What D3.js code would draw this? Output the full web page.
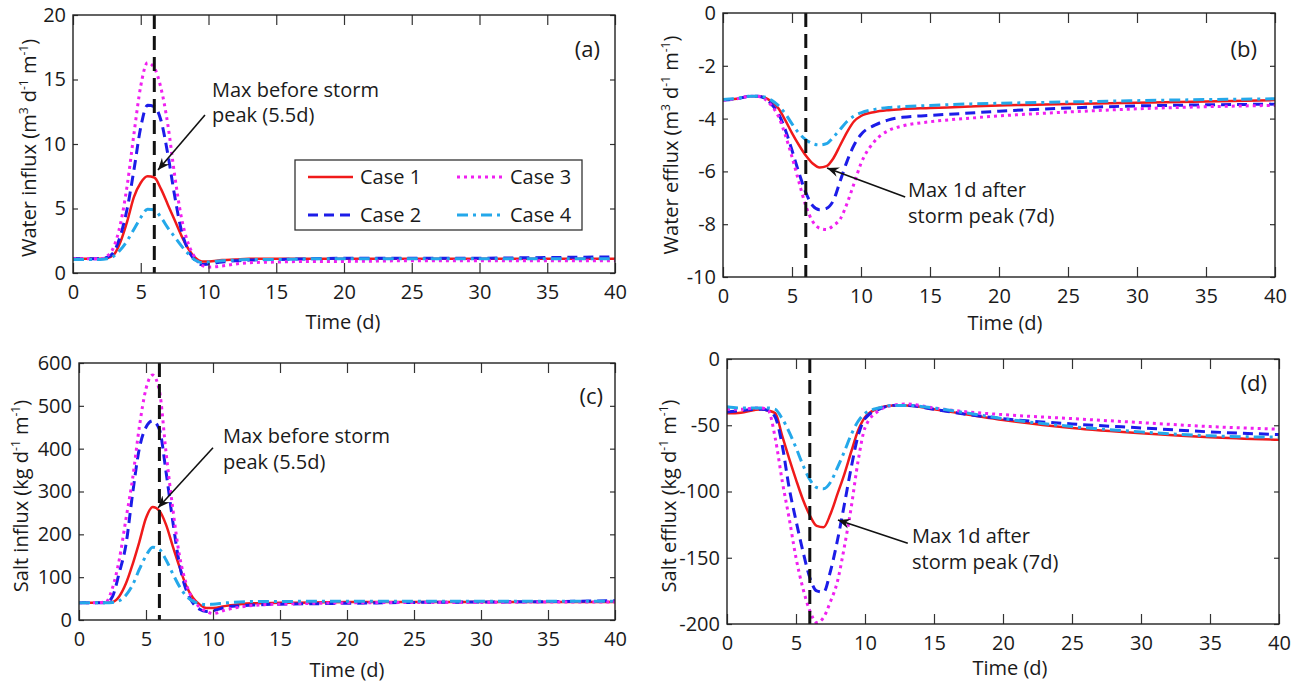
<!DOCTYPE html>
<html>
<head>
<meta charset="utf-8">
<script src="https://cdn.jsdelivr.net/npm/d3@7"></script>
<style>
  body { margin: 0; background: #fff; }
  svg { display: block; font-family: "Open Sans", "DejaVu Sans", sans-serif; }
</style>
</head>
<body>
<svg id="fig" width="1301" height="684"></svg>
<script>
// ---- data -----------------------------------------------------------------
const days = [0, 1, 2, 2.5, 3, 3.5, 4, 4.5, 5, 5.5, 6, 6.5, 7, 7.5, 8, 8.5, 9, 9.5, 10, 11, 12, 13, 15, 17.5, 20, 25, 30, 35, 40];
const caseNames = ["Case 1", "Case 2", "Case 3", "Case 4"];

// (a) water influx, m3 d-1 m-1 (Case 1..4)
const waterInflux = [
  [1.1, 1.1, 1.1, 1.15, 1.4, 2.4, 4.0, 5.9, 7.0, 7.5, 7.4, 6.5, 5.3, 4.1, 2.9, 1.9, 1.2, 0.9, 0.9, 1.0, 1.05, 1.1, 1.1, 1.1, 1.1, 1.1, 1.1, 1.1, 1.1],
  [1.1, 1.1, 1.1, 1.2, 1.6, 2.9, 5.0, 8.0, 11.3, 13.0, 12.9, 11.8, 9.2, 6.0, 3.3, 1.8, 1.0, 0.65, 0.7, 0.85, 0.95, 1.0, 1.05, 1.1, 1.15, 1.15, 1.15, 1.2, 1.25],
  [1.1, 1.1, 1.1, 1.3, 2.0, 3.8, 6.8, 10.8, 14.5, 16.3, 15.9, 14.3, 11.5, 7.6, 4.3, 2.3, 1.2, 0.6, 0.45, 0.55, 0.7, 0.8, 0.85, 0.9, 0.9, 0.95, 0.95, 0.95, 0.95],
  [1.05, 1.05, 1.05, 1.1, 1.3, 1.8, 2.5, 3.4, 4.3, 4.95, 4.9, 4.3, 3.5, 2.8, 2.1, 1.5, 1.0, 0.8, 0.85, 0.95, 1.0, 1.05, 1.05, 1.1, 1.1, 1.1, 1.1, 1.1, 1.1]
];

// (b) water efflux, m3 d-1 m-1
const waterEfflux = [
  [-3.3, -3.25, -3.15, -3.15, -3.2, -3.35, -3.6, -4.05, -4.55, -5.0, -5.4, -5.7, -5.85, -5.8, -5.5, -5.0, -4.5, -4.1, -3.9, -3.75, -3.68, -3.64, -3.6, -3.55, -3.5, -3.45, -3.4, -3.35, -3.3],
  [-3.3, -3.25, -3.15, -3.15, -3.22, -3.45, -3.8, -4.4, -5.2, -6.05, -6.8, -7.3, -7.45, -7.4, -7.1, -6.35, -5.6, -5.0, -4.6, -4.25, -4.05, -3.95, -3.88, -3.8, -3.72, -3.6, -3.52, -3.48, -3.45],
  [-3.3, -3.25, -3.15, -3.15, -3.25, -3.5, -3.9, -4.6, -5.45, -6.4, -7.3, -7.9, -8.15, -8.2, -8.05, -7.8, -7.2, -6.45, -5.7, -4.85, -4.45, -4.28, -4.12, -4.0, -3.9, -3.75, -3.63, -3.55, -3.5],
  [-3.28, -3.24, -3.15, -3.15, -3.18, -3.3, -3.5, -3.8, -4.2, -4.55, -4.8, -4.95, -5.0, -4.95, -4.7, -4.4, -4.1, -3.9, -3.78, -3.65, -3.58, -3.55, -3.5, -3.45, -3.42, -3.37, -3.32, -3.28, -3.25]
];

// (c) salt influx, kg d-1 m-1
const saltInflux = [
  [40, 40, 40, 42, 55, 85, 130, 182, 238, 264, 255, 222, 172, 124, 80, 52, 36, 28, 28, 33, 37, 39, 40, 41, 42, 42, 42, 42, 42],
  [40, 40, 40, 55, 110, 175, 295, 400, 450, 465, 445, 345, 230, 130, 70, 40, 25, 20, 22, 30, 33, 35, 37, 38, 39, 41, 42, 43, 45],
  [40, 40, 42, 75, 140, 235, 330, 450, 540, 572, 535, 390, 260, 150, 85, 48, 30, 20, 15, 24, 30, 34, 37, 39, 40, 41, 41, 42, 42],
  [40, 40, 40, 41, 45, 58, 82, 118, 150, 170, 165, 140, 108, 78, 56, 44, 38, 36, 37, 40, 42, 43, 43, 44, 44, 44, 44, 44, 44]
];

// (d) salt efflux, kg d-1 m-1
const saltEfflux = [
  [-41, -40.5, -38.5, -38, -39, -41, -58, -75, -91, -106, -118, -126, -127, -117, -102, -87, -70, -54, -44, -37, -35, -35, -38, -42, -46, -52, -56, -59, -61],
  [-40, -39, -38, -38, -39, -44, -65, -97, -122, -145, -165, -175, -176, -160, -137, -110, -82, -58, -45, -38, -35, -35, -38, -42, -45, -49, -52, -55, -57],
  [-38, -38, -37, -37, -39, -60, -92, -120, -150, -173, -190, -199, -195, -183, -168, -142, -112, -77, -52, -39, -35, -34, -37, -40, -42, -45, -48, -51, -53],
  [-36, -37, -37, -37, -37, -38, -45, -55, -67, -80, -91, -97, -98, -93, -82, -70, -57, -47, -41, -37, -35, -35, -37, -41, -45, -51, -55, -58, -59]
];

const timeTicks = [0, 5, 10, 15, 20, 25, 30, 35, 40];
const waterInTicks = [0, 5, 10, 15, 20];
const waterOutTicks = [-10, -8, -6, -4, -2, 0];
const saltInTicks = [0, 100, 200, 300, 400, 500, 600];
const saltOutTicks = [-200, -150, -100, -50, 0];
const stormPeakDay = 6;

// ---- styles & layout ------------------------------------------------------
const caseStyles = [
  { color: "#f01a1a", dash: null,        width: 2.5 },
  { color: "#1c1ce8", dash: "10,6",      width: 3 },
  { color: "#f020f0", dash: "3,4",       width: 3 },
  { color: "#24a8ea", dash: "11,5,3,5",  width: 3 }
];

const panels = [
  { series: waterInflux, yDomain: [0, 20], yTicks: waterInTicks,
    left: 73, right: 615, top: 15, bottom: 273,
    yLabel: ["Water influx (m", "3", " d", "-1", " m", "-1", ")"], yLabelX: 36, yLabelY: 148,
    xLabelX: 343, xLabelY: 329, tag: "(a)", tagX: 600, tagY: 57,
    note: ["Max before storm", "peak (5.5d)"], noteX: 212, noteY: [97, 122],
    arrow: { from: [9.74, 12.25], to: [6.27, 7.98] } },
  { series: waterEfflux, yDomain: [-10, 0], yTicks: waterOutTicks,
    left: 723, right: 1275, top: 13, bottom: 277,
    yLabel: ["Water efflux (m", "3", " d", "-1", " m", "-1", ")"], yLabelX: 678, yLabelY: 145,
    xLabelX: 1005, xLabelY: 330, tag: "(b)", tagX: 1257, tagY: 57,
    note: ["Max 1d after", "storm peak (7d)"], noteX: 908, noteY: [197, 223],
    arrow: { from: [13.2, -6.97], to: [7.54, -5.87] } },
  { series: saltInflux, yDomain: [0, 600], yTicks: saltInTicks,
    left: 79, right: 615, top: 363, bottom: 620,
    yLabel: ["Salt influx (kg d", "-1", " m", "-1", ")"], yLabelX: 28, yLabelY: 496,
    xLabelX: 347, xLabelY: 677, tag: "(c)", tagX: 603, tagY: 404,
    note: ["Max before storm", "peak (5.5d)"], noteX: 223, noteY: [443, 469],
    arrow: { from: [10.0, 402], to: [5.9, 262] } },
  { series: saltEfflux, yDomain: [-200, 0], yTicks: saltOutTicks,
    left: 727, right: 1279, top: 359, bottom: 624,
    yLabel: ["Salt efflux (kg d", "-1", " m", "-1", ")"], yLabelX: 676, yLabelY: 496,
    xLabelX: 1010, xLabelY: 675, tag: "(d)", tagX: 1267, tagY: 391,
    note: ["Max 1d after", "storm peak (7d)"], noteX: 912, noteY: [543, 569],
    arrow: { from: [13.1, -139], to: [8.04, -121.5] } }
];

const svg = d3.select("#fig");
const defs = svg.append("defs");

// MATLAB-like notched arrowhead
defs.append("marker")
  .attr("id", "arrowhead")
  .attr("viewBox", "-12 -6 14 12")
  .attr("refX", 0).attr("refY", 0)
  .attr("markerWidth", 14).attr("markerHeight", 12)
  .attr("markerUnits", "userSpaceOnUse")
  .attr("orient", "auto")
  .append("path")
  .attr("d", "M0,0 L-12,-5 L-8,0 L-12,5 Z")
  .attr("fill", "#111");

function drawPanel(p, i) {
  const g = svg.append("g");
  const x = d3.scaleLinear().domain([0, 40]).range([p.left, p.right]);
  const y = d3.scaleLinear().domain(p.yDomain).range([p.bottom, p.top]);

  const clipId = "clip" + i;
  defs.append("clipPath").attr("id", clipId)
    .append("rect")
    .attr("x", p.left).attr("y", p.top)
    .attr("width", p.right - p.left).attr("height", p.bottom - p.top);

  // curves, one per case
  const line = d3.line()
    .x((d, k) => x(days[k]))
    .y(d => y(d))
    .curve(d3.curveMonotoneX);

  const curves = g.append("g").attr("clip-path", `url(#${clipId})`);
  p.series.forEach((vals, k) => {
    const s = caseStyles[k];
    curves.append("path")
      .datum(vals)
      .attr("d", line)
      .attr("fill", "none")
      .attr("stroke", s.color)
      .attr("stroke-width", s.width)
      .attr("stroke-dasharray", s.dash)
      .attr("stroke-linejoin", "round");
  });

  // storm peak marker
  g.append("line")
    .attr("x1", x(stormPeakDay)).attr("x2", x(stormPeakDay))
    .attr("y1", p.top).attr("y2", p.bottom)
    .attr("stroke", "#111").attr("stroke-width", 3)
    .attr("stroke-dasharray", "14,7");

  // axes with inward ticks on all four sides
  const fmt = d => String(d);
  const styleAxis = sel => {
    sel.select(".domain").remove();
    sel.selectAll(".tick line").attr("stroke", "#333").attr("stroke-width", 1.2);
    sel.selectAll(".tick text").attr("font-size", 20).attr("fill", "#1a1a1a")
      .attr("font-family", "'Open Sans', sans-serif");
  };
  g.append("g").attr("transform", `translate(0,${p.bottom})`)
    .call(d3.axisBottom(x).tickValues(timeTicks).tickSizeInner(-10).tickSizeOuter(0).tickPadding(12).tickFormat(fmt))
    .call(styleAxis);
  g.append("g").attr("transform", `translate(0,${p.top})`)
    .call(d3.axisTop(x).tickValues(timeTicks).tickSizeInner(-10).tickSizeOuter(0).tickFormat(""))
    .call(styleAxis);
  g.append("g").attr("transform", `translate(${p.left},0)`)
    .call(d3.axisLeft(y).tickValues(p.yTicks).tickSizeInner(-5).tickSizeOuter(0).tickPadding(7).tickFormat(fmt))
    .call(styleAxis);
  g.append("g").attr("transform", `translate(${p.right},0)`)
    .call(d3.axisRight(y).tickValues(p.yTicks).tickSizeInner(-5).tickSizeOuter(0).tickFormat(""))
    .call(styleAxis);

  g.append("rect")
    .attr("x", p.left).attr("y", p.top)
    .attr("width", p.right - p.left).attr("height", p.bottom - p.top)
    .attr("fill", "none").attr("stroke", "#222").attr("stroke-width", 1.4);

  // axis titles
  g.append("text")
    .attr("x", p.xLabelX).attr("y", p.xLabelY)
    .attr("text-anchor", "middle").attr("font-size", 20).attr("fill", "#1a1a1a")
    .text("Time (d)");

  const yl = g.append("text")
    .attr("transform", `translate(${p.yLabelX},${p.yLabelY}) rotate(-90)`)
    .attr("text-anchor", "middle").attr("font-size", 20).attr("fill", "#1a1a1a");
  p.yLabel.forEach((part, k) => {
    const sup = k % 2 === 1;
    yl.append("tspan")
      .attr("font-size", sup ? 12 : 20)
      .attr("dy", sup ? -8 : (k > 0 ? 8 : 0))
      .text(part);
  });

  // panel tag
  g.append("text")
    .attr("x", p.tagX).attr("y", p.tagY)
    .attr("text-anchor", "end").attr("font-size", 22).attr("fill", "#1a1a1a")
    .text(p.tag);

  // annotation
  p.note.forEach((t, k) => {
    g.append("text")
      .attr("x", p.noteX).attr("y", p.noteY[k])
      .attr("font-size", 20).attr("fill", "#1a1a1a")
      .text(t);
  });
  g.append("line")
    .attr("x1", x(p.arrow.from[0])).attr("y1", y(p.arrow.from[1]))
    .attr("x2", x(p.arrow.to[0])).attr("y2", y(p.arrow.to[1]))
    .attr("stroke", "#111").attr("stroke-width", 1.6)
    .attr("marker-end", "url(#arrowhead)");
}

panels.forEach(drawPanel);

// legend in panel (a)
const legend = { left: 295, top: 160, width: 287, height: 70 };
const lg = svg.append("g");
lg.append("rect")
  .attr("x", legend.left).attr("y", legend.top)
  .attr("width", legend.width).attr("height", legend.height)
  .attr("fill", "#fff").attr("stroke", "#333").attr("stroke-width", 1.3);
const legendSlots = [
  { lx: 308, tx: 360, y: 177 },
  { lx: 308, tx: 360, y: 215 },
  { lx: 457, tx: 510, y: 177 },
  { lx: 457, tx: 510, y: 215 }
];
caseNames.forEach((name, k) => {
  const s = caseStyles[k], slot = legendSlots[k];
  lg.append("line")
    .attr("x1", slot.lx).attr("x2", slot.lx + 45)
    .attr("y1", slot.y).attr("y2", slot.y)
    .attr("stroke", s.color).attr("stroke-width", s.width)
    .attr("stroke-dasharray", s.dash);
  lg.append("text")
    .attr("x", slot.tx).attr("y", slot.y + 7)
    .attr("font-size", 20).attr("fill", "#1a1a1a")
    .text(name);
});
</script>
</body>
</html>
